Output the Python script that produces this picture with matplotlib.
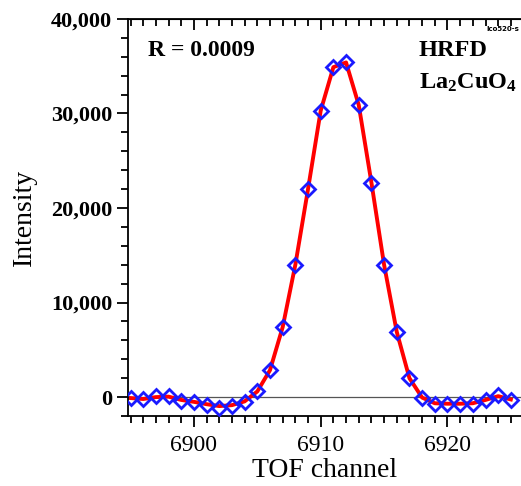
import matplotlib
matplotlib.use("Agg")
import matplotlib.pyplot as plt
from matplotlib.ticker import MultipleLocator, FuncFormatter

# canais TOF e intensidades
channels = list(range(6895, 6926))
observed = [-100, -200, 100, 150, -400, -500, -800, -1100, -900, -500,
            600, 2850, 7400, 14000, 22000, 30300, 34900, 35400, 30900, 22700,
            14000, 6900, 2000, -50, -700, -700, -700, -700, -300, 200,
            -300]
calculated = [-100, -200, 0, 50, -300, -500, -750, -950, -850, -450,
              600, 2850, 7400, 14000, 22000, 30300, 34900, 35400, 30900, 22700,
              14000, 6900, 2000, -50, -650, -700, -700, -650, -300, 100,
              -250]

plt.rcParams['font.family'] = ['Liberation Serif', 'DejaVu Serif']
plt.rcParams['mathtext.fontset'] = 'custom'
plt.rcParams['mathtext.rm'] = 'Liberation Serif:bold'
plt.rcParams['mathtext.bf'] = 'Liberation Serif:bold'
plt.rcParams['mathtext.it'] = 'Liberation Serif:bold'

fig = plt.figure(figsize=(5.21, 4.86), dpi=100)
ax = fig.add_axes([0.2457, 0.144, 0.7543, 0.817])

ax.axhline(0, color='#555555', lw=0.9, zorder=1)
ax.plot(channels, calculated, color='red', lw=2.8, zorder=2)
ax.plot(channels, observed, linestyle='none', marker='D', markersize=7,
        markerfacecolor='none', markeredgecolor='#1a1aff', markeredgewidth=2.0, zorder=3)

ax.set_xlim(6894.8, 6925.8)
ax.set_ylim(-2000, 40000)

ax.xaxis.set_major_locator(MultipleLocator(10))
ax.xaxis.set_minor_locator(MultipleLocator(1))
ax.yaxis.set_major_locator(MultipleLocator(10000))
ax.yaxis.set_minor_locator(MultipleLocator(2000))
ax.yaxis.set_major_formatter(FuncFormatter(lambda v, p: f"{int(v):,}"))

ax.spines['right'].set_visible(False)
for s in ['left', 'bottom', 'top']:
    ax.spines[s].set_linewidth(1.3)

ax.tick_params(axis='x', which='both', direction='out', top=False, labelsize=17, width=1.3, pad=6)
ax.tick_params(axis='x', which='major', length=8)
ax.tick_params(axis='x', which='minor', length=5)
ax.tick_params(axis='y', which='both', direction='out', right=False, labelsize=16, width=1.3)
ax.tick_params(axis='y', which='major', length=8)
ax.tick_params(axis='y', which='minor', length=5)
for lbl in ax.get_yticklabels():
    lbl.set_fontweight('bold')

# ticks de cima apontam para dentro
sec = ax.secondary_xaxis('top')
sec.xaxis.set_major_locator(MultipleLocator(10))
sec.xaxis.set_minor_locator(MultipleLocator(1))
sec.tick_params(which='both', direction='in', labeltop=False, width=1.3)
sec.tick_params(which='major', length=8)
sec.tick_params(which='minor', length=5)

ax.set_xlabel('TOF channel', fontsize=20, labelpad=1)
ax.set_ylabel('Intensity', fontsize=20, labelpad=10)

ax.text(0.05, 0.92, 'R = 0.0009', transform=ax.transAxes, fontsize=17,
        fontweight='bold', va='center')
ax.text(0.74, 0.92, 'HRFD', transform=ax.transAxes, fontsize=17.5,
        fontweight='bold', va='center')
ax.text(0.74, 0.84, r'La$_2$CuO$_4$', transform=ax.transAxes, fontsize=17.5,
        fontweight='bold', va='center')
ax.text(0.995, 0.975, 'lco520-s', transform=ax.transAxes, fontsize=5,
        family='DejaVu Sans', fontweight='bold', ha='right', va='center')

plt.savefig('out.png', dpi=100)
